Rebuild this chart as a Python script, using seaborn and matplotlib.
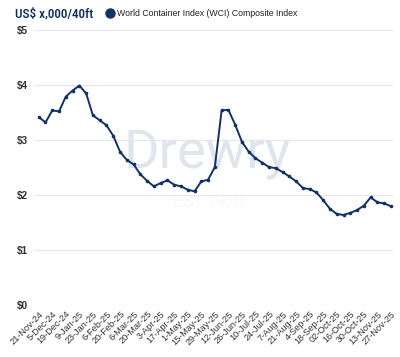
import pandas as pd
import seaborn as sns
import matplotlib.pyplot as plt
from matplotlib.lines import Line2D
from matplotlib import font_manager

# weekly WCI composite, US$ thousand per 40ft
weeks = [
    "21-Nov-24", "28-Nov-24", "5-Dec-24", "12-Dec-24", "19-Dec-24", "2-Jan-25",
    "9-Jan-25", "16-Jan-25", "23-Jan-25", "30-Jan-25", "6-Feb-25", "13-Feb-25",
    "20-Feb-25", "27-Feb-25", "6-Mar-25", "13-Mar-25", "20-Mar-25", "27-Mar-25",
    "3-Apr-25", "10-Apr-25", "17-Apr-25", "24-Apr-25", "1-May-25", "8-May-25",
    "15-May-25", "22-May-25", "29-May-25", "5-Jun-25", "12-Jun-25", "19-Jun-25",
    "26-Jun-25", "3-Jul-25", "10-Jul-25", "17-Jul-25", "24-Jul-25", "31-Jul-25",
    "7-Aug-25", "14-Aug-25", "21-Aug-25", "28-Aug-25", "4-Sep-25", "11-Sep-25",
    "18-Sep-25", "25-Sep-25", "02-Oct-25", "09-Oct-25", "16-Oct-25", "23-Oct-25",
    "30-Oct-25", "06-Nov-25", "13-Nov-25", "20-Nov-25", "27-Nov-25",
]
wci = [
    3.42, 3.32, 3.54, 3.52, 3.79, 3.90,
    3.99, 3.85, 3.45, 3.36, 3.27, 3.08,
    2.79, 2.64, 2.56, 2.38, 2.26, 2.16,
    2.22, 2.27, 2.19, 2.16, 2.10, 2.07,
    2.25, 2.28, 2.51, 3.54, 3.55, 3.28,
    2.97, 2.79, 2.67, 2.59, 2.51, 2.49,
    2.42, 2.34, 2.25, 2.13, 2.11, 2.05,
    1.91, 1.75, 1.66, 1.64, 1.68, 1.73,
    1.81, 1.96, 1.87, 1.85, 1.80,
]
y_ticks = [0, 1, 2, 3, 4, 5]

df = pd.DataFrame({"week": weeks, "wci": wci})
df["pos"] = range(len(df))

navy = "#123263"

sns.set_style("white")
plt.rcParams["font.family"] = ["Liberation Sans", "DejaVu Sans"]

# narrow face for the unit label, if one is around
installed = {f.name for f in font_manager.fontManager.ttflist}
narrow = next((n for n in ["Roboto Condensed", "DejaVu Sans Condensed",
                           "Liberation Sans Narrow", "Open Sans Condensed"]
               if n in installed), "Roboto")

fig = plt.figure(figsize=(4.0, 3.57), dpi=100)
ax = fig.add_axes([0.0875, 0.1448, 0.895, 0.7712])

# watermark
ax.text(0.482, 0.499, "Drewry", transform=ax.transAxes, ha="center", va="baseline",
        fontsize=39, color="#dfe5ed", family=["Roboto", "DejaVu Sans"],
        fontweight="normal", zorder=0)
ax.text(0.485, 0.375, "EST 1970", transform=ax.transAxes, ha="center", va="center",
        fontsize=12, color="#e6eaf0", family=["Roboto", "DejaVu Sans"],
        fontweight="light", zorder=0)

sns.lineplot(data=df, x="pos", y="wci", ax=ax, color=navy, linewidth=1.4,
             marker="o", markersize=2.6, markeredgewidth=0, zorder=3)

ax.set_xlim(-0.55, 52.3)
ax.set_ylim(0, 5)
ax.set_yticks(y_ticks)
ax.set_yticklabels([f"${v}" for v in y_ticks], fontsize=7.2, color="#333333",
                   fontweight="bold")
ax.set_xticks(df["pos"][::2])
ax.set_xticklabels(df["week"][::2], rotation=45, ha="right", rotation_mode="anchor",
                   fontsize=6.6, color="#333333")
ax.tick_params(axis="both", length=0, pad=3)
ax.tick_params(axis="y", pad=5)
ax.grid(axis="y", color="#e6e6e6", linewidth=0.8)
ax.set_axisbelow(True)
sns.despine(ax=ax, left=True, bottom=True)
ax.set_xlabel("")
ax.set_ylabel("")

fig.text(0.0375, 0.962, "US$ x,000/40ft", ha="left", va="center",
         fontsize=8.6 if narrow == "Roboto" else 9.5, color="#0f2b5b",
         family=[narrow, "DejaVu Sans"], fontweight="medium")

handle = Line2D([], [], color=navy, marker="o", linestyle="none", markersize=6.5)
fig.legend([handle], ["World Container Index (WCI) Composite Index"],
           loc="center left", bbox_to_anchor=(0.255, 0.962), frameon=False,
           fontsize=6.3, handletextpad=0.35, borderaxespad=0, handlelength=1.0,
           labelcolor="#222222")

fig.savefig("out.png", dpi=100, facecolor="white")
